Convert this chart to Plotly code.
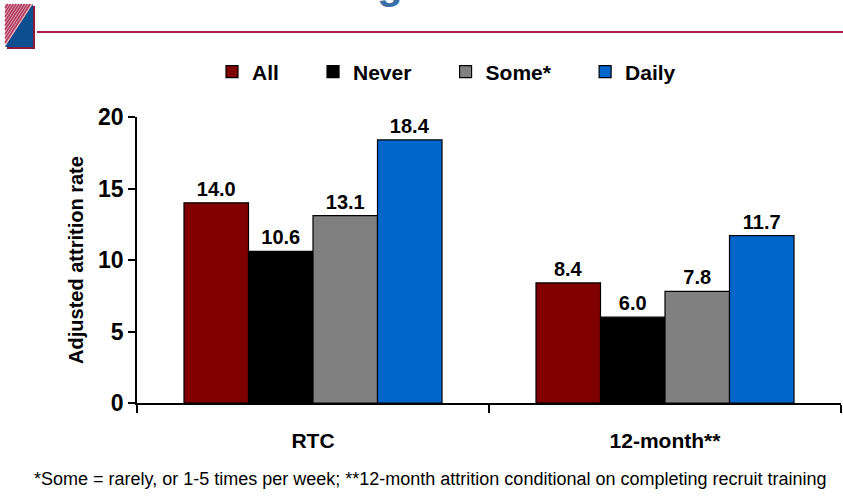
import plotly.graph_objects as go

categories = ["RTC", "12-month**"]
series_names = ["All", "Never", "Some*", "Daily"]
all_vals = [14.0, 8.4]
never_vals = [10.6, 6.0]
some_vals = [13.1, 7.8]
daily_vals = [18.4, 11.7]
colors = ["#800000", "#000000", "#808080", "#0066CC"]
y_ticks = [0, 5, 10, 15, 20]
y_title = "Adjusted attrition rate"
footnote = "*Some = rarely, or 1-5 times per week; **12-month attrition conditional on completing recruit training"
title_fragment = "g"

W, H = 843, 496
L, R, T, B = 137, 2, 117, 93
PW, PH = W - L - R, H - T - B


def px(x):
    return (x - L) / PW


def py(y):
    return (H - B - y) / PH


fig = go.Figure()
pad = "\u00a0" * 5
for name, vals, col in zip(series_names, [all_vals, never_vals, some_vals, daily_vals], colors):
    fig.add_trace(go.Bar(
        x=categories, y=vals, name=name + pad,
        marker=dict(color=col, line=dict(color="black", width=1.2)),
        text=[f"{v:.1f}" for v in vals], textposition="outside",
        textfont=dict(family="Liberation Sans, Arial", size=20, color="black", weight="bold"),
        cliponaxis=False,
    ))

fig.update_layout(
    width=W, height=H,
    margin=dict(l=L, r=R, t=T, b=B, autoexpand=False),
    paper_bgcolor="white", plot_bgcolor="white",
    barmode="group", bargap=0.267, bargroupgap=0,
    font=dict(family="Liberation Sans, Arial", color="black"),
    legend=dict(orientation="h", x=px(228 - 16), xanchor="left", y=py(72), yanchor="middle",
                font=dict(size=21, family="Liberation Sans, Arial", weight="bold"),
                itemwidth=30, traceorder="normal"),
    xaxis=dict(showline=True, linecolor="black", linewidth=1.5,
               ticks="outside", ticklen=8, tickwidth=1.5, tickcolor="black",
               tickson="boundaries", ticklabelstandoff=18,
               tickfont=dict(family="Liberation Sans, Arial", size=21, weight="bold")),
    yaxis=dict(range=[0, 20], tickvals=y_ticks, showline=True, linecolor="black", linewidth=1.5,
               ticks="outside", ticklen=7, tickwidth=1.5, tickcolor="black", showgrid=False,
               zeroline=False,
               tickfont=dict(size=23, weight="bold"),
               title=dict(text=y_title, font=dict(size=20, weight="bold"), standoff=9)),
    showlegend=True,
)

fig.add_annotation(text=footnote, xref="paper", yref="paper", x=px(430), y=py(467),
                   xanchor="center", yanchor="top", showarrow=False,
                   font=dict(family="Liberation Sans, Arial", size=18, color="black"))

# cut-off title fragment at the very top
fig.add_annotation(text=title_fragment, xref="paper", yref="paper", x=px(390), y=py(9),
                   xanchor="center", yanchor="bottom", showarrow=False,
                   font=dict(family="Liberation Sans, Arial", size=42, color="#3A6FA8", weight="bold"))

# header rule
fig.add_shape(type="line", xref="paper", yref="paper",
              x0=px(37), x1=px(843), y0=py(32), y1=py(32),
              line=dict(color="#B5174B", width=2))

# logo: shadow, striped upper-left triangle, blue lower-right triangle
fig.add_shape(type="rect", xref="paper", yref="paper", x0=px(7), x1=px(35), y0=py(49), y1=py(6),
              fillcolor="#8B1A3A", line=dict(width=0))
fig.add_shape(type="path", xref="paper", yref="paper",
              path=f"M{px(5)},{py(4)} L{px(33)},{py(4)} L{px(5)},{py(47)} Z",
              fillcolor="#E6B3C1", line=dict(width=0))
stripes = []
for i in range(1, 10):
    t = i / 10
    stripes.append(f"M{px(5 + t * 28)},{py(4)} L{px(5)},{py(4 + t * 43)}")
fig.add_shape(type="path", xref="paper", yref="paper", path=" ".join(stripes),
              line=dict(color="#B23A5E", width=1.6))
fig.add_shape(type="path", xref="paper", yref="paper",
              path=f"M{px(33)},{py(4)} L{px(33)},{py(47)} L{px(5)},{py(47)} Z",
              fillcolor="#0B4F8F", line=dict(width=0))

fig.write_html("out.html", config={"displayModeBar": False},
               post_script="document.body.style.margin='0px';document.body.style.overflow='hidden';")
